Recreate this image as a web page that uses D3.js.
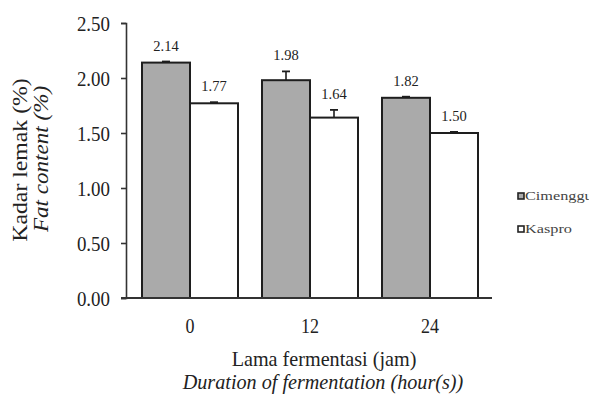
<!DOCTYPE html>
<html><head><meta charset="utf-8">
<script src="https://cdn.jsdelivr.net/npm/d3@7"></script>
<style>body{margin:0;background:#fff}svg{display:block}
text{font-family:"Liberation Serif","DejaVu Serif","Times New Roman",serif}</style>
</head><body>
<svg id="c" width="589" height="396"></svg>
<script>
const categories = ["0", "12", "24"];
const seriesNames = ["Cimenggu", "Kaspro"];
const cimenggu = [2.14, 1.98, 1.82];
const kaspro = [1.77, 1.64, 1.50];
const cimengguErr = [0.01, 0.08, 0.01];
const kasproErr = [0.01, 0.07, 0.01];
const yTicks = [0, 0.5, 1.0, 1.5, 2.0, 2.5];

const colors = {Cimenggu: "#aaaaaa", Kaspro: "#ffffff"};
const svg = d3.select("#c");

// horizontally squeeze/stretch text like the reference
function squeeze(sel, f) {
  sel.each(function() {
    const w = this.getComputedTextLength();
    d3.select(this).attr("textLength", w * f).attr("lengthAdjust", "spacingAndGlyphs");
  });
}

const x = d3.scaleBand().domain(categories).range([130, 490]).paddingInner(0.2).paddingOuter(0.1);
const xs = d3.scaleBand().domain(seriesNames).range([0, x.bandwidth()]);
const y = d3.scaleLinear().domain([0, 2.5]).range([298, 23]);

const data = categories.map((c, i) => ({
  cat: c,
  vals: [
    {s: "Cimenggu", v: cimenggu[i], e: cimengguErr[i]},
    {s: "Kaspro", v: kaspro[i], e: kasproErr[i]}
  ]
}));

const grp = svg.append("g").selectAll("g.grp").data(data).join("g")
  .attr("transform", d => `translate(${x(d.cat)},0)`);

grp.selectAll("rect").data(d => d.vals).join("rect")
  .attr("x", d => xs(d.s))
  .attr("y", d => y(d.v))
  .attr("width", xs.bandwidth())
  .attr("height", d => y(0) - y(d.v))
  .attr("fill", d => colors[d.s])
  .attr("stroke", "#1e1e1e")
  .attr("stroke-width", 2);

// error bars
grp.selectAll("g.err").data(d => d.vals).join("g").each(function(d) {
  const cx = xs(d.s) + xs.bandwidth() / 2;
  const e = d3.select(this);
  e.append("line").attr("x1", cx).attr("x2", cx)
    .attr("y1", y(d.v)).attr("y2", y(d.v + d.e))
    .attr("stroke", "#1e1e1e").attr("stroke-width", 1.6);
  e.append("line").attr("x1", cx - 4).attr("x2", cx + 4)
    .attr("y1", y(d.v + d.e)).attr("y2", y(d.v + d.e))
    .attr("stroke", "#1e1e1e").attr("stroke-width", 1.8);
});

// value labels
grp.selectAll("text.val").data(d => d.vals).join("text")
  .attr("x", d => xs(d.s) + xs.bandwidth() / 2)
  .attr("y", d => y(d.v + d.e) - 11)
  .attr("text-anchor", "middle")
  .style("font-size", "14.5px").attr("fill", "#222")
  .text(d => d.v.toFixed(2));

// y axis
const yAxis = d3.axisLeft(y).tickValues(yTicks).tickFormat(d3.format(".2f")).tickSizeOuter(0).tickSize(5).tickPadding(11);
const ya = svg.append("g").attr("transform", "translate(126,0)").call(yAxis);
ya.attr("font-family", null);
ya.selectAll("path,line").attr("stroke", "#333").attr("stroke-width", 1.6);
ya.selectAll("text").style("font-size", "22px").attr("fill", "#222").attr("dy", "0.35em").call(squeeze, 0.86);

// x axis
const xAxis = d3.axisBottom(x).tickSize(0).tickPadding(20);
const xa = svg.append("g").attr("transform", "translate(0,298)").call(xAxis);
xa.attr("font-family", null);
xa.select("path").attr("d", "M121,0H492").attr("stroke", "#333").attr("stroke-width", 1.8);
xa.selectAll("text").style("font-size", "20px").attr("fill", "#222").attr("dy", "0.71em").attr("y", 21).call(squeeze, 0.9);

// axis titles
svg.append("text").attr("transform", "translate(27,160) rotate(-90)")
  .attr("text-anchor", "middle").style("font-size", "21px").attr("fill", "#222")
  .text("Kadar lemak (%)").call(squeeze, 1.13);
svg.append("text").attr("transform", "translate(48,159) rotate(-90)")
  .attr("text-anchor", "middle").style("font-size", "21px").style("font-style", "italic").attr("fill", "#222")
  .text("Fat content (%)").call(squeeze, 1.1);
svg.append("text").attr("x", 324).attr("y", 366)
  .attr("text-anchor", "middle").style("font-size", "21px").attr("fill", "#222")
  .text("Lama fermentasi (jam)").call(squeeze, 0.96);
svg.append("text").attr("x", 323).attr("y", 389)
  .attr("text-anchor", "middle").style("font-size", "21px").style("font-style", "italic").attr("fill", "#222")
  .text("Duration of fermentation (hour(s))").call(squeeze, 0.96);

// legend
const leg = svg.append("g").selectAll("g").data(seriesNames).join("g")
  .attr("transform", (d, i) => `translate(518,${193 + i * 33})`);
leg.append("rect").attr("width", 6).attr("height", 6)
  .attr("fill", d => colors[d]).attr("stroke", "#222").attr("stroke-width", 1.6);
leg.append("text").attr("x", 7).attr("y", 7)
  .style("font-size", "12.5px").attr("fill", "#444")
  .text(d => d).call(squeeze, 1.3);
</script>
</body></html>
